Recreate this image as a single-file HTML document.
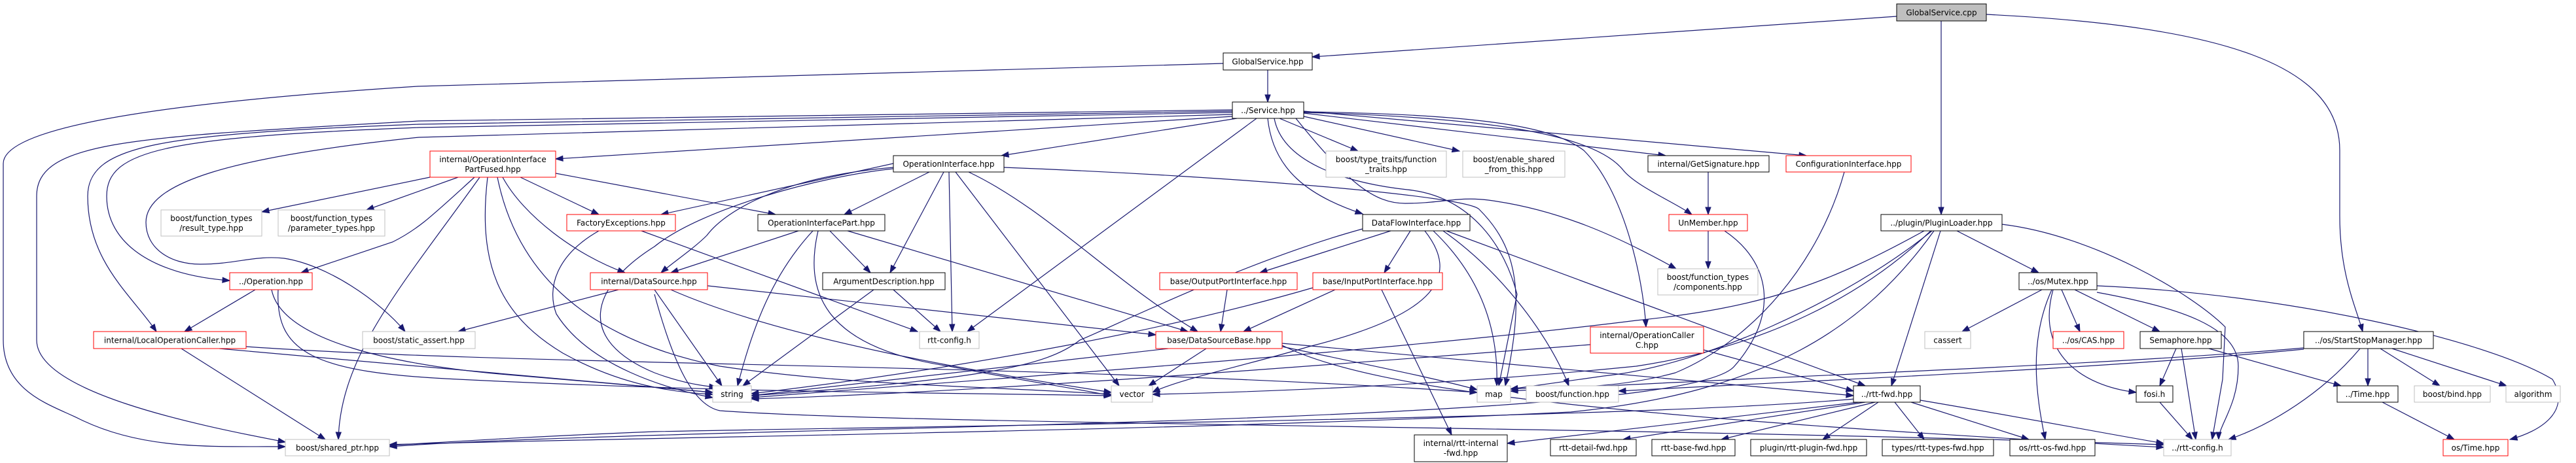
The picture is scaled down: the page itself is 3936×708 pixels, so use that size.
<!DOCTYPE html>
<html><head><meta charset="utf-8"><style>
html,body{margin:0;padding:0;background:#fff;}
svg{display:block;}
text{font-family:"DejaVu Sans","Liberation Sans",sans-serif;font-size:12px;fill:#000;}
</style></head><body>
<svg id="g" width="3936" height="708" viewBox="0 0 3936 708" xmlns="http://www.w3.org/2000/svg">
<g id="edges" fill="none" stroke="#191970" stroke-width="1.2"></g>
<g id="arrows" fill="#191970" stroke="#191970" stroke-width="1"></g>
<g id="nodes">
<rect x="2898" y="6" width="137" height="26" fill="#bfbfbf" stroke="#000"/><text x="2966.5" y="23.5" text-anchor="middle">GlobalService.cpp</text>
<rect x="1869" y="81" width="136" height="26" fill="#fff" stroke="#000"/><text x="1937" y="98.5" text-anchor="middle">GlobalService.hpp</text>
<rect x="1883" y="156" width="109" height="25" fill="#fff" stroke="#000"/><text x="1937.5" y="173" text-anchor="middle">../Service.hpp</text>
<rect x="657" y="231" width="192" height="40" fill="#fff" stroke="#f00"/><text x="753" y="248" text-anchor="middle">internal/OperationInterface</text><text x="753" y="263" text-anchor="middle">PartFused.hpp</text>
<rect x="1365" y="238" width="169" height="25" fill="#fff" stroke="#000"/><text x="1449.5" y="255" text-anchor="middle">OperationInterface.hpp</text>
<rect x="2026" y="231" width="184" height="40" fill="#fff" stroke="#bfbfbf"/><text x="2118" y="248" text-anchor="middle">boost/type_traits/function</text><text x="2118" y="263" text-anchor="middle">_traits.hpp</text>
<rect x="2235" y="231" width="156" height="40" fill="#fff" stroke="#bfbfbf"/><text x="2313" y="248" text-anchor="middle">boost/enable_shared</text><text x="2313" y="263" text-anchor="middle">_from_this.hpp</text>
<rect x="2518" y="238" width="185" height="25" fill="#fff" stroke="#000"/><text x="2610.5" y="255" text-anchor="middle">internal/GetSignature.hpp</text>
<rect x="2729" y="238" width="191" height="25" fill="#fff" stroke="#f00"/><text x="2824.5" y="255" text-anchor="middle">ConfigurationInterface.hpp</text>
<rect x="246" y="321" width="154" height="40" fill="#fff" stroke="#bfbfbf"/><text x="323" y="338" text-anchor="middle">boost/function_types</text><text x="323" y="353" text-anchor="middle">/result_type.hpp</text>
<rect x="425" y="321" width="163" height="40" fill="#fff" stroke="#bfbfbf"/><text x="506.5" y="338" text-anchor="middle">boost/function_types</text><text x="506.5" y="353" text-anchor="middle">/parameter_types.hpp</text>
<rect x="866" y="328" width="166" height="25" fill="#fff" stroke="#f00"/><text x="949" y="345" text-anchor="middle">FactoryExceptions.hpp</text>
<rect x="1158" y="328" width="194" height="25" fill="#fff" stroke="#000"/><text x="1255" y="345" text-anchor="middle">OperationInterfacePart.hpp</text>
<rect x="2082" y="328" width="164" height="25" fill="#fff" stroke="#000"/><text x="2164" y="345" text-anchor="middle">DataFlowInterface.hpp</text>
<rect x="2550" y="328" width="120" height="25" fill="#fff" stroke="#f00"/><text x="2610" y="345" text-anchor="middle">UnMember.hpp</text>
<rect x="2874" y="328" width="185" height="25" fill="#fff" stroke="#000"/><text x="2966.5" y="345" text-anchor="middle">../plugin/PluginLoader.hpp</text>
<rect x="351" y="417" width="126" height="26" fill="#fff" stroke="#f00"/><text x="414" y="434.5" text-anchor="middle">../Operation.hpp</text>
<rect x="902" y="417" width="179" height="26" fill="#fff" stroke="#f00"/><text x="991.5" y="434.5" text-anchor="middle">internal/DataSource.hpp</text>
<rect x="1257" y="417" width="187" height="26" fill="#fff" stroke="#000"/><text x="1350.5" y="434.5" text-anchor="middle">ArgumentDescription.hpp</text>
<rect x="1772" y="417" width="210" height="26" fill="#fff" stroke="#f00"/><text x="1877" y="434.5" text-anchor="middle">base/OutputPortInterface.hpp</text>
<rect x="2006" y="417" width="198" height="26" fill="#fff" stroke="#f00"/><text x="2105" y="434.5" text-anchor="middle">base/InputPortInterface.hpp</text>
<rect x="2533" y="411" width="153" height="40" fill="#fff" stroke="#bfbfbf"/><text x="2609.5" y="428" text-anchor="middle">boost/function_types</text><text x="2609.5" y="443" text-anchor="middle">/components.hpp</text>
<rect x="3085" y="417" width="119" height="26" fill="#fff" stroke="#000"/><text x="3144.5" y="434.5" text-anchor="middle">../os/Mutex.hpp</text>
<rect x="143" y="507" width="233" height="26" fill="#fff" stroke="#f00"/><text x="259.5" y="524.5" text-anchor="middle">internal/LocalOperationCaller.hpp</text>
<rect x="554" y="507" width="172" height="26" fill="#fff" stroke="#bfbfbf"/><text x="640" y="524.5" text-anchor="middle">boost/static_assert.hpp</text>
<rect x="1405" y="507" width="91" height="26" fill="#fff" stroke="#bfbfbf"/><text x="1450.5" y="524.5" text-anchor="middle">rtt-config.h</text>
<rect x="1766" y="507" width="193" height="26" fill="#fff" stroke="#f00"/><text x="1862.5" y="524.5" text-anchor="middle">base/DataSourceBase.hpp</text>
<rect x="2430" y="500" width="173" height="40" fill="#fff" stroke="#f00"/><text x="2516.5" y="517" text-anchor="middle">internal/OperationCaller</text><text x="2516.5" y="532" text-anchor="middle">C.hpp</text>
<rect x="2941" y="507" width="70" height="26" fill="#fff" stroke="#bfbfbf"/><text x="2976" y="524.5" text-anchor="middle">cassert</text>
<rect x="3137" y="507" width="108" height="26" fill="#fff" stroke="#f00"/><text x="3191" y="524.5" text-anchor="middle">../os/CAS.hpp</text>
<rect x="3270" y="507" width="124" height="26" fill="#fff" stroke="#000"/><text x="3332" y="524.5" text-anchor="middle">Semaphore.hpp</text>
<rect x="3520" y="507" width="198" height="26" fill="#fff" stroke="#000"/><text x="3619" y="524.5" text-anchor="middle">../os/StartStopManager.hpp</text>
<rect x="1089" y="590" width="59" height="25" fill="#fff" stroke="#bfbfbf"/><text x="1118.5" y="607" text-anchor="middle">string</text>
<rect x="1698" y="590" width="63" height="25" fill="#fff" stroke="#bfbfbf"/><text x="1729.5" y="607" text-anchor="middle">vector</text>
<rect x="2257" y="590" width="51" height="25" fill="#fff" stroke="#bfbfbf"/><text x="2282.5" y="607" text-anchor="middle">map</text>
<rect x="2332" y="590" width="141" height="25" fill="#fff" stroke="#bfbfbf"/><text x="2402.5" y="607" text-anchor="middle">boost/function.hpp</text>
<rect x="2832" y="590" width="102" height="25" fill="#fff" stroke="#000"/><text x="2883" y="607" text-anchor="middle">../rtt-fwd.hpp</text>
<rect x="3264" y="590" width="56" height="25" fill="#fff" stroke="#000"/><text x="3292" y="607" text-anchor="middle">fosi.h</text>
<rect x="3571" y="590" width="93" height="25" fill="#fff" stroke="#000"/><text x="3617.5" y="607" text-anchor="middle">../Time.hpp</text>
<rect x="3689" y="590" width="116" height="25" fill="#fff" stroke="#bfbfbf"/><text x="3747" y="607" text-anchor="middle">boost/bind.hpp</text>
<rect x="3829" y="590" width="83" height="25" fill="#fff" stroke="#bfbfbf"/><text x="3870.5" y="607" text-anchor="middle">algorithm</text>
<rect x="436" y="672" width="159" height="25" fill="#fff" stroke="#bfbfbf"/><text x="515.5" y="689" text-anchor="middle">boost/shared_ptr.hpp</text>
<rect x="2161" y="665" width="142" height="41" fill="#fff" stroke="#000"/><text x="2232" y="682" text-anchor="middle">internal/rtt-internal</text><text x="2232" y="697" text-anchor="middle">-fwd.hpp</text>
<rect x="2369" y="672" width="131" height="25" fill="#fff" stroke="#000"/><text x="2434.5" y="689" text-anchor="middle">rtt-detail-fwd.hpp</text>
<rect x="2524" y="672" width="127" height="25" fill="#fff" stroke="#000"/><text x="2587.5" y="689" text-anchor="middle">rtt-base-fwd.hpp</text>
<rect x="2675" y="672" width="177" height="25" fill="#fff" stroke="#000"/><text x="2763.5" y="689" text-anchor="middle">plugin/rtt-plugin-fwd.hpp</text>
<rect x="2876" y="672" width="170" height="25" fill="#fff" stroke="#000"/><text x="2961" y="689" text-anchor="middle">types/rtt-types-fwd.hpp</text>
<rect x="3071" y="672" width="130" height="25" fill="#fff" stroke="#000"/><text x="3136" y="689" text-anchor="middle">os/rtt-os-fwd.hpp</text>
<rect x="3306" y="672" width="103" height="25" fill="#fff" stroke="#bfbfbf"/><text x="3357.5" y="689" text-anchor="middle">../rtt-config.h</text>
<rect x="3733" y="672" width="99" height="25" fill="#fff" stroke="#f00"/><text x="3782.5" y="689" text-anchor="middle">os/Time.hpp</text>
</g>
</svg>
<script>
var E=[
"M2898,25 L2005,87",
"M2966,32 L2966,328",
"M3035,22 C3400,40 3575,100 3575,230 L3575,330 C3575,420 3600,470 3610,507",
"M1869,97 L638,132 C200,160 5,200 5,250 L5,520 C5,600 80,620 120,640 C220,690 330,682 436,683",
"M1937,107 L1937,156",
"M1883,168 L640,185 C200,210 56,215 56,300 L56,520 C56,600 300,650 436,676",
"M1883,170 L640,190 C250,205 134,220 134,300 C134,400 200,450 239,507",
"M1883,172 L640,195 C250,210 163,230 163,300 C163,370 230,420 351,429",
"M1883,175 L640,210 C350,240 223,280 223,340 C223,380 260,404 306,404 C360,404 390,390 434,395 C500,405 580,460 619,507",
"M1883,178 L849,243",
"M1890,181 L1530,238",
"M1920,181 L1478,507",
"M1937,181 C1945,260 2000,300 2082,327",
"M1947,181 C1960,250 2060,280 2150,290 C2250,300 2300,380 2318,450 L2290,590",
"M1955,181 L2075,231",
"M1992,178 L2230,231",
"M1992,173 L2545,238",
"M1992,170 L2760,238",
"M1992,172 C2300,180 2440,210 2480,260 C2500,285 2560,310 2585,328",
"M1992,171 C2300,175 2380,200 2420,230 C2480,290 2510,420 2515,500",
"M1980,181 C2060,280 2100,311 2147,311 C2200,311 2230,300 2274,306 C2380,320 2470,360 2561,411",
"M657,271 L400,324",
"M700,271 L560,321",
"M725,271 C660,330 640,350 600,370 L460,417",
"M733,271 C620,430 520,540 517,672",
"M745,271 C730,400 760,480 860,540 C950,590 1030,600 1089,603",
"M760,271 C790,420 900,520 1100,560 C1300,590 1500,590 1698,603",
"M768,271 C800,330 880,390 955,417",
"M795,271 L915,328",
"M849,265 L1185,328",
"M1365,250 L1010,328",
"M1420,263 L1290,328",
"M1365,256 C1200,270 1110,320 1080,360 C1060,380 1030,400 1010,417",
"M1442,263 L1360,417",
"M1450,263 L1455,507",
"M1460,263 L1710,590",
"M1480,263 C1600,320 1700,430 1830,507",
"M1534,256 C1900,270 2240,300 2260,320 C2320,380 2330,450 2300,590",
"M1365,258 C1250,270 1070,320 1000,377 C900,440 880,520 1000,570 C1040,585 1070,590 1095,592",
"M915,353 C850,390 835,440 850,480 C900,560 1020,595 1089,608",
"M980,353 L1402,507",
"M1220,353 L1025,417",
"M1268,353 L1330,417",
"M1242,353 C1180,420 1150,500 1127,590",
"M1250,353 C1230,440 1250,530 1450,560 C1550,580 1620,590 1698,605",
"M1295,353 L1815,507",
"M945,443 L700,507",
"M1000,443 L1103,590",
"M1081,437 L1766,512",
"M1025,443 C1200,520 1500,570 1698,600",
"M1000,450 C1030,560 1060,620 1100,628 C1400,650 2400,650 3306,680",
"M390,443 L282,507",
"M415,443 C430,520 600,560 800,575 L1089,600",
"M425,443 C420,540 480,570 700,580 C1100,600 1400,600 1698,605",
"M277,533 L497,672",
"M335,533 L1089,600",
"M376,530 C800,560 1600,555 2257,600",
"M1335,443 L1135,590",
"M1365,443 L1437,507",
"M1875,443 L1865,507",
"M2040,443 L1900,507",
"M2111,443 L2218,665",
"M2006,440 C1800,500 1500,560 1148,602",
"M2155,353 L2115,417",
"M2125,353 L1925,417",
"M2082,350 C1900,400 1700,500 1650,520 C1600,560 1500,580 1148,605",
"M2177,353 C2230,420 2200,480 2000,530 C1900,560 1800,580 1761,600",
"M2190,353 C2260,420 2290,500 2287,590",
"M2205,353 C2300,420 2370,520 2397,590",
"M2210,353 L2850,590",
"M1785,533 L1148,605",
"M1843,533 L1755,590",
"M1959,530 C2100,560 2200,580 2257,596",
"M1959,525 L2832,605",
"M1959,528 C2100,600 2500,640 3306,684",
"M2610,263 L2610,328",
"M2610,353 L2610,411",
"M2635,353 C2705,400 2720,480 2650,560 C2600,620 2000,640 1200,660 C900,668 700,675 595,683",
"M2818,263 C2780,400 2680,520 2560,570 C2450,600 2350,590 2308,595",
"M2603,535 L2832,598",
"M2430,527 C2000,560 1500,600 1148,610",
"M2990,353 L3115,417",
"M2965,353 L2890,590",
"M3059,343 C3200,360 3350,450 3400,500 L3396,580 L3380,672",
"M2940,353 C2800,430 2700,470 2500,490 C2100,540 1500,580 1148,608",
"M2950,353 C2850,450 2700,530 2500,560 C2200,590 1900,600 1761,603",
"M2955,353 C2850,500 2700,600 2400,630 C1800,660 900,670 595,680",
"M2952,353 C2820,460 2600,560 2450,575 L2308,595",
"M3120,443 L2998,507",
"M3150,443 L3178,507",
"M3170,443 L3300,507",
"M3137,443 C3110,540 3180,590 3264,600",
"M3135,443 C3100,520 3110,600 3125,672",
"M3204,447 C3330,470 3420,500 3420,560 C3420,620 3390,650 3390,672",
"M3204,437 C3500,450 3800,520 3900,580 C3930,630 3880,660 3835,672",
"M3325,533 L3300,590",
"M3333,533 L3355,672",
"M3375,533 L3577,590",
"M3618,533 L3618,590",
"M3637,533 L3728,590",
"M3655,533 L3830,590",
"M3606,533 C3550,600 3470,650 3405,672",
"M3520,532 C3200,560 2700,575 2308,598",
"M3520,534 C3200,565 2800,580 2473,598",
"M3300,615 L3350,672",
"M3640,615 L3750,672",
"M2840,615 L2303,678",
"M2850,615 L2480,672",
"M2865,615 L2630,672",
"M2870,615 L2785,672",
"M2895,615 L2940,672",
"M2920,615 L3100,672",
"M2834,610 C2500,640 1500,650 1000,660 C800,668 700,675 595,681",
"M2934,612 C3100,640 3200,660 3306,678"
];
var ns="http://www.w3.org/2000/svg",ge=document.getElementById("edges"),ga=document.getElementById("arrows");
E.forEach(function(d){
 var p=document.createElementNS(ns,"path");p.setAttribute("d",d);ge.appendChild(p);
 var n=d.match(/-?\d+(\.\d+)?/g).map(Number);var L=n.length;
 var x2=n[L-2],y2=n[L-1],x1=n[L-4],y1=n[L-3];
 var dx=x2-x1,dy=y2-y1,l=Math.sqrt(dx*dx+dy*dy)||1;dx/=l;dy/=l;
 var bx=x2-dx*11,by=y2-dy*11,px=-dy*4,py=dx*4;
 var t=document.createElementNS(ns,"polygon");
 t.setAttribute("points",x2+","+y2+" "+(bx+px)+","+(by+py)+" "+(bx-px)+","+(by-py));
 ga.appendChild(t);
});
</script>
</body></html>
